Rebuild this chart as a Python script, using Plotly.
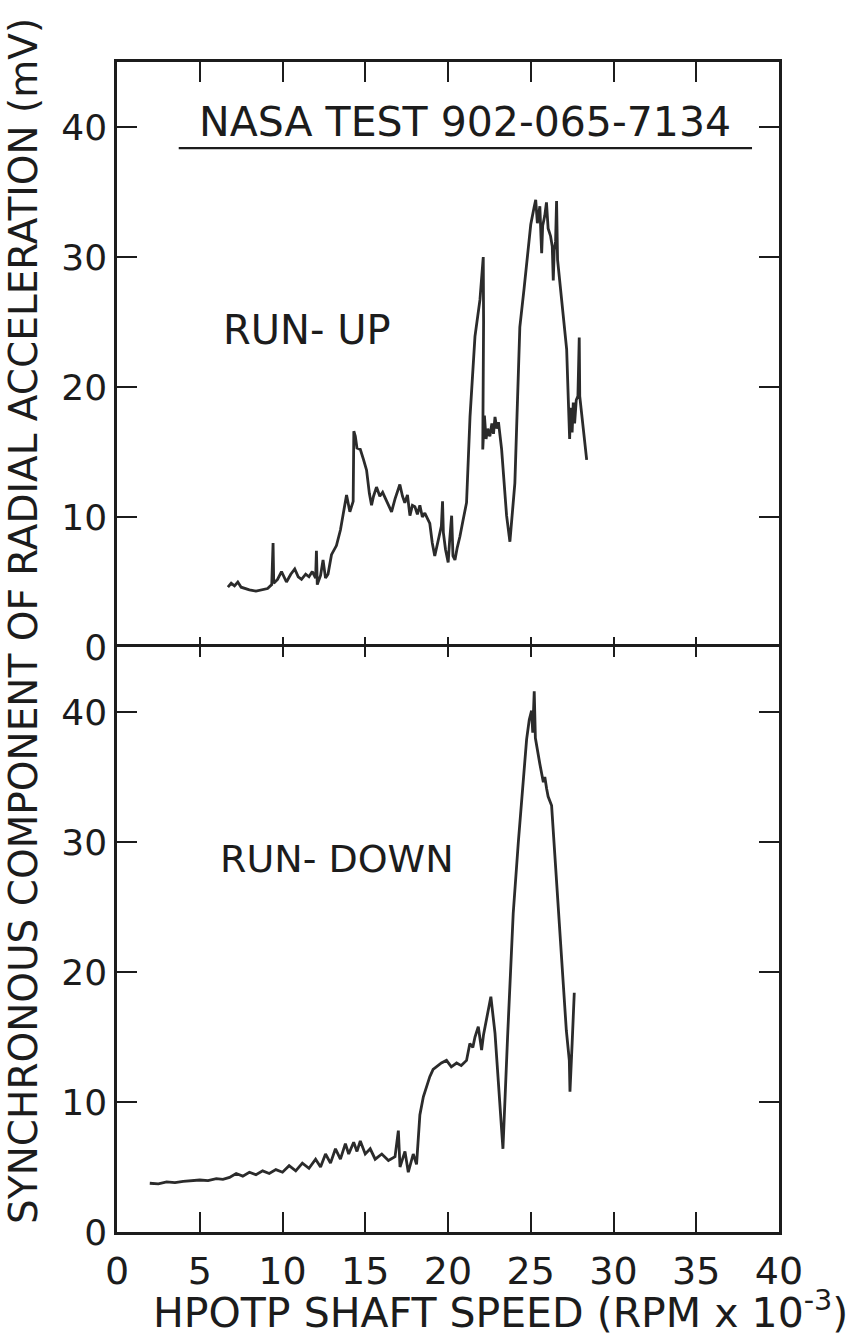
import plotly.graph_objects as go

# ---- data ----
runup_speed = [6.7, 6.9, 7.1, 7.3, 7.5, 7.7, 8.0, 8.4, 8.8, 9.1, 9.35, 9.43, 9.47, 9.7, 9.94,
               10.1, 10.24, 10.5, 10.74, 10.95, 11.15, 11.4, 11.6, 11.8, 12.0, 12.05, 12.1, 12.3,
               12.45, 12.6, 12.75, 12.96, 13.26, 13.5, 13.67, 13.87, 14.07, 14.2, 14.27, 14.31,
               14.4, 14.5, 14.7, 14.9, 15.08, 15.25, 15.38, 15.5, 15.68, 15.88, 16.05, 16.3,
               16.59, 16.8, 17.0, 17.09, 17.25, 17.39, 17.55, 17.7, 17.85, 18.0, 18.15, 18.3,
               18.45, 18.6, 18.9, 19.05, 19.2, 19.41, 19.6, 19.67, 19.72, 19.85, 20.01, 20.1,
               20.22, 20.3, 20.42, 20.55, 20.72, 20.9, 21.12, 21.33, 21.63, 21.93, 22.13, 22.15,
               22.12, 22.1, 22.2, 22.3, 22.4, 22.53, 22.65, 22.75, 22.84, 22.95, 23.05, 23.24,
               23.54, 23.74, 24.04, 24.34, 24.6, 24.85, 25.0, 25.2, 25.3, 25.4, 25.55, 25.62,
               25.66, 25.72, 25.85, 25.95, 26.05, 26.2, 26.3, 26.36, 26.42, 26.5, 26.56, 26.62,
               26.9, 27.17, 27.27, 27.35, 27.4, 27.5, 27.57, 27.65, 27.75, 27.85, 27.93, 27.96,
               28.38]
runup_accel = [4.6, 4.9, 4.7, 5.0, 4.6, 4.5, 4.4, 4.3, 4.4, 4.5, 4.8, 8.0, 4.9, 5.2, 5.8,
               5.3, 5.0, 5.6, 6.0, 5.4, 5.2, 5.6, 5.4, 5.8, 5.3, 7.4, 4.8, 5.5,
               6.7, 5.3, 5.6, 7.1, 7.8, 9.0, 10.3, 11.7, 10.4, 10.9, 11.2, 16.6,
               16.2, 15.3, 15.2, 14.4, 13.6, 11.8, 10.9, 11.6, 12.3, 11.6, 11.9, 11.2,
               10.4, 11.4, 12.2, 12.5, 11.6, 11.1, 11.7, 10.1, 10.9, 10.8, 10.2, 10.9,
               10.0, 10.3, 9.5, 8.0, 7.0, 8.3, 9.3, 11.2, 8.8, 7.5, 6.5, 8.2,
               10.1, 7.0, 6.7, 7.6, 8.5, 9.7, 11.1, 17.7, 23.9, 26.7, 30.0, 25.0,
               19.0, 15.2, 17.8, 16.0, 16.8, 16.2, 17.2, 16.4, 17.7, 16.8, 17.3, 15.2,
               10.1, 8.1, 12.6, 24.6, 27.6, 30.5, 32.5, 33.8, 34.4, 32.6, 33.9, 31.5,
               30.3, 32.4, 33.2, 34.2, 32.2, 31.6, 30.8, 28.2, 30.5, 31.2, 34.3, 29.8,
               26.5, 22.9, 19.0, 16.0, 18.4, 16.5, 18.8, 17.2, 19.0, 19.3, 23.8, 19.3,
               14.4]

rundown_speed = [1.98, 2.5, 3.0, 3.5, 4.0, 4.5, 5.0, 5.5, 6.0, 6.4, 6.8, 7.2, 7.6, 8.0, 8.4,
                 8.8, 9.2, 9.6, 10.0,
                 10.4, 10.8, 11.2, 11.6, 12.0, 12.3, 12.6, 12.9, 13.2, 13.5, 13.8, 14.0, 14.3,
                 14.5, 14.7, 15.0, 15.3, 15.6, 16.0, 16.4, 16.8, 17.0, 17.1, 17.4, 17.6, 17.9,
                 18.1, 18.3, 18.51, 18.7, 18.9, 19.1, 19.31, 19.6, 19.91, 20.2, 20.52, 20.8,
                 21.12, 21.32, 21.5, 21.63, 21.83, 22.03, 22.15, 22.29, 22.59, 22.84, 23.1,
                 23.32, 23.6, 23.94, 24.25, 24.55, 24.75, 24.91, 25.05, 25.12, 25.21, 25.28,
                 25.35, 25.55, 25.76, 25.85, 25.96, 26.05, 26.26, 26.55, 26.87, 27.15, 27.33,
                 27.37, 27.5, 27.63]
rundown_accel = [3.75, 3.7, 3.85, 3.8, 3.9, 3.95, 4.0, 3.95, 4.1, 4.05, 4.2, 4.5, 4.3, 4.6, 4.4,
                 4.7, 4.5, 4.8, 4.6,
                 5.1, 4.7, 5.3, 4.9, 5.6, 5.0, 6.0, 5.3, 6.4, 5.6, 6.8, 6.0, 6.9,
                 6.2, 7.0, 6.0, 6.4, 5.6, 6.0, 5.5, 5.8, 7.8, 5.0, 6.2, 4.6, 6.0,
                 5.2, 9.0, 10.4, 11.2, 11.95, 12.5, 12.7, 13.0, 13.2, 12.7, 13.0, 12.8,
                 13.2, 14.5, 14.2, 15.0, 15.8, 14.0, 15.2, 16.1, 18.1, 15.3, 10.5,
                 6.4, 15.0, 24.5, 30.0, 34.8, 37.9, 39.4, 40.1, 38.4, 41.6, 38.0,
                 37.4, 36.0, 34.6, 35.0, 34.1, 33.5, 32.8, 27.0, 20.7, 15.5, 13.2,
                 10.8, 14.5, 18.4]

x_ticks = [0, 5, 10, 15, 20, 25, 30, 35, 40]
x_inner_ticks = [5, 10, 15, 20, 25, 30, 35]
y_ticks = [0, 10, 20, 30, 40]

FONT = "DejaVu Sans"
INK = "#1c1c1c"
LINE = "#2b2b2b"

fig = go.Figure()
# traces sit on the axes that carry the short crossing ticks of the middle line
fig.add_trace(go.Scatter(x=runup_speed, y=runup_accel, mode="lines",
                         line=dict(color=LINE, width=2.8), xaxis="x3", yaxis="y",
                         showlegend=False))
fig.add_trace(go.Scatter(x=rundown_speed, y=rundown_accel, mode="lines",
                         line=dict(color=LINE, width=2.8), xaxis="x4", yaxis="y2",
                         showlegend=False))

common = dict(showgrid=False, zeroline=False, linecolor=INK, linewidth=2.5,
              tickcolor=INK, tickwidth=2.2, ticks="inside")

fig.update_layout(
    width=857, height=1340,
    margin=dict(l=117, r=78, t=62, b=108),
    paper_bgcolor="white", plot_bgcolor="white",
    font=dict(family=FONT, color=INK),
    xaxis=dict(domain=[0, 1], anchor="y", range=[0, 40], side="top",
               tickvals=x_inner_ticks, showticklabels=False, ticklen=20,
               showline=True, mirror=False, **common),
    yaxis=dict(domain=[0.5, 1], anchor="x", range=[0, 45], tickvals=y_ticks,
               ticklen=20, showline=True, mirror="ticks",
               tickfont=dict(size=36, family=FONT, color=INK), **common),
    xaxis2=dict(domain=[0, 1], anchor="y2", range=[0, 40], side="bottom",
                tickvals=x_ticks, ticklen=20, showline=True, mirror=True,
                tickfont=dict(size=38, family=FONT, color=INK),
                ticklabelstandoff=4, **common),
    yaxis2=dict(domain=[0, 0.5], anchor="x2", range=[0, 45], tickvals=y_ticks,
                ticklen=20, showline=True, mirror="ticks",
                tickfont=dict(size=36, family=FONT, color=INK), **common),
    # short crossing ticks on the shared middle line
    xaxis3=dict(overlaying="x", anchor="y", side="bottom", range=[0, 40],
                tickvals=x_inner_ticks, showticklabels=False, ticklen=10,
                showline=False, showgrid=False, zeroline=False, ticks="inside",
                tickcolor=INK, tickwidth=2.2),
    xaxis4=dict(overlaying="x2", anchor="y2", side="top", range=[0, 40],
                tickvals=x_inner_ticks, showticklabels=False, ticklen=10,
                showline=False, showgrid=False, zeroline=False, ticks="inside",
                tickcolor=INK, tickwidth=2.2),
)

annotations = [
    dict(text="NASA TEST 902-065-7134", x=21.0, y=40.35, xref="x", yref="y",
         showarrow=False, font=dict(size=41, family=FONT, color=INK),
         xanchor="center", yanchor="middle"),
    dict(text="RUN- UP", x=11.5, y=24.4, xref="x", yref="y", showarrow=False,
         font=dict(size=40, family=FONT, color=INK), xanchor="center", yanchor="middle"),
    dict(text="RUN- DOWN", x=13.3, y=28.7, xref="x2", yref="y2", showarrow=False,
         font=dict(size=38, family=FONT, color=INK), xanchor="center", yanchor="middle"),
    dict(text="SYNCHRONOUS COMPONENT OF RADIAL ACCELERATION (mV)",
         x=-0.141, y=0.522, xref="paper", yref="paper", textangle=-90,
         showarrow=False, font=dict(size=39, family=FONT, color=INK),
         xanchor="center", yanchor="middle"),
    dict(text="HPOTP SHAFT SPEED (RPM x 10<sup>-3</sup>)",
         x=0.58, y=-0.067, xref="paper", yref="paper", showarrow=False,
         font=dict(size=41, family=FONT, color=INK), xanchor="center", yanchor="middle"),
]
fig.update_layout(annotations=annotations)

fig.add_shape(type="line", xref="x", yref="y", x0=3.73, x1=38.37, y0=38.38, y1=38.38,
              line=dict(color=INK, width=2.2))

fig.write_html("out.html")
